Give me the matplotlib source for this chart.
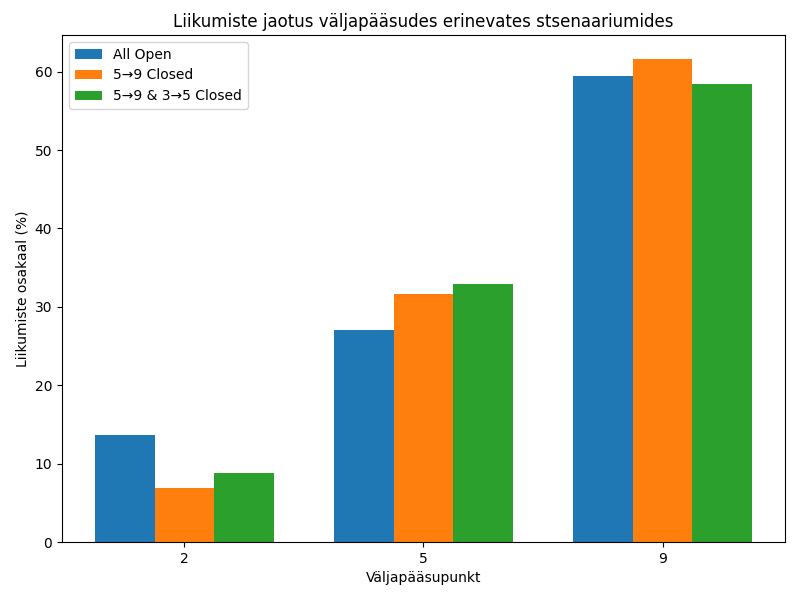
import matplotlib
matplotlib.use("Agg")
import matplotlib.pyplot as plt
import numpy as np

exits = ["2", "5", "9"]
all_open = [13.65, 27.04, 59.44]
closed_59 = [6.89, 31.63, 61.6]
closed_59_35 = [8.8, 32.9, 58.4]

x = np.arange(len(exits))
w = 0.25
fig, ax = plt.subplots(figsize=(8, 6), dpi=100)
ax.bar(x - w, all_open, w, label="All Open")
ax.bar(x, closed_59, w, label="5→9 Closed")
ax.bar(x + w, closed_59_35, w, label="5→9 & 3→5 Closed")
ax.set_xticks(x)
ax.set_xticklabels(exits)
ax.set_xlabel("Väljapääsupunkt")
ax.set_ylabel("Liikumiste osakaal (%)")
ax.set_title("Liikumiste jaotus väljapääsudes erinevates stsenaariumides")
ax.legend(loc="upper left")
fig.subplots_adjust(left=62/800, right=785/800, top=565/600, bottom=58/600)
fig.savefig("out.png")
